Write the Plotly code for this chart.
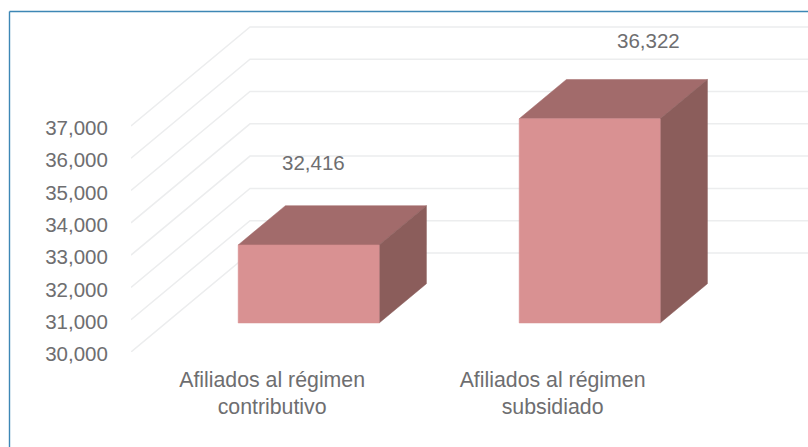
import plotly.graph_objects as go

categories = ["Afiliados al régimen<br>contributivo", "Afiliados al régimen<br>subsidiado"]
values = [32416, 36322]
value_labels = ["32,416", "36,322"]
tick_values = [30000, 31000, 32000, 33000, 34000, 35000, 36000, 37000]
tick_labels = ["30,000", "31,000", "32,000", "33,000", "34,000", "35,000", "36,000", "37,000"]

W, H = 808, 447
LEFT, BOTTOM, TOP = 131, 352, 11
PX_PER_UNIT = 32.3 / 1000
X0_PX, STEP_PX = 273.8, 281.0

def x_of_px(p):
    return (p - X0_PX) / STEP_PX

Y_BASE = 30000
WALL_DX = 119 / STEP_PX
WALL_DY = 99 / PX_PER_UNIT
BAR_W = 141 / STEP_PX
F0, F1 = 0.293, 0.69
FRONT_C, TOP_C, SIDE_C = "#d99192", "#a26b6b", "#8b5d5b"
GRID_C = "#ecedee"
TXT = "#6e6e70"
FS_TICK = 20.5
FS_CAT = 21.3

fig = go.Figure()

x_end = x_of_px(W + 2)
x_left = x_of_px(LEFT)
for v in tick_values:
    fig.add_trace(go.Scatter(
        x=[x_left, x_left + WALL_DX, x_end],
        y=[v, v + WALL_DY, v + WALL_DY],
        mode="lines", line=dict(color=GRID_C, width=1.5),
        hoverinfo="skip", showlegend=False))

def face(xs, ys, color):
    fig.add_trace(go.Scatter(
        x=xs + xs[:1], y=ys + ys[:1], mode="lines", fill="toself",
        fillcolor=color, line=dict(color=color, width=0.5),
        hoverinfo="skip", showlegend=False))

for i, v in enumerate(values):
    xl = i - BAR_W / 2 + F0 * WALL_DX
    xr = xl + BAR_W
    dx = (F1 - F0) * WALL_DX
    dy = (F1 - F0) * WALL_DY
    base = Y_BASE + F0 * WALL_DY
    top = base + (v - Y_BASE)
    face([xl, xr, xr + dx, xl + dx], [top, top, top + dy, top + dy], TOP_C)
    face([xr, xr + dx, xr + dx, xr], [base, base + dy, top + dy, top], SIDE_C)
    face([xl, xr, xr, xl], [base, base, top, top], FRONT_C)

label_x = [x_of_px(313), x_of_px(648)]
label_gap = [43 / PX_PER_UNIT, 39 / PX_PER_UNIT]
for i, v in enumerate(values):
    base = Y_BASE + F0 * WALL_DY
    top_back = base + (v - Y_BASE) + (F1 - F0) * WALL_DY
    fig.add_annotation(x=label_x[i], y=top_back + label_gap[i], text=value_labels[i],
                       showarrow=False, font=dict(family="Liberation Sans", size=FS_TICK, color=TXT),
                       xanchor="center", yanchor="middle")

pw = W - LEFT
ph = BOTTOM - TOP
fig.update_layout(
    width=W, height=H, autosize=False,
    margin=dict(l=LEFT, r=0, t=TOP, b=H - BOTTOM, pad=0),
    paper_bgcolor="white", plot_bgcolor="white", showlegend=False,
    font=dict(family="Liberation Sans", size=FS_TICK, color=TXT),
    xaxis=dict(range=[x_left, x_of_px(W)], tickmode="array", tickvals=[-0.006, 0.992],
               ticktext=categories, showgrid=False, zeroline=False, showline=False,
               ticks="outside", ticklen=8, tickcolor="rgba(0,0,0,0)", tickangle=0, automargin=False,
               tickfont=dict(family="Liberation Sans", size=FS_CAT, color=TXT)),
    yaxis=dict(range=[Y_BASE, Y_BASE + ph / PX_PER_UNIT], tickmode="array",
               tickvals=tick_values, ticktext=tick_labels, showgrid=False, zeroline=False,
               showline=False, ticks="outside", ticklen=18, tickcolor="rgba(0,0,0,0)", automargin=False,
               ticklabelshift=2),
    shapes=[
        dict(type="line", xref="paper", yref="paper",
             x0=(9.5 - LEFT) / pw, x1=(W - LEFT) / pw,
             y0=(BOTTOM - 11.5) / ph, y1=(BOTTOM - 11.5) / ph,
             line=dict(color="#3d87b5", width=1.4), layer="above"),
        dict(type="line", xref="paper", yref="paper",
             x0=(9.5 - LEFT) / pw, x1=(9.5 - LEFT) / pw,
             y0=(BOTTOM - 11.5) / ph, y1=(BOTTOM - H) / ph,
             line=dict(color="#3d87b5", width=1.4), layer="above"),
    ],
)

fig.write_html("out.html", config={"displayModeBar": False},
               post_script="document.body.style.margin='0';")
